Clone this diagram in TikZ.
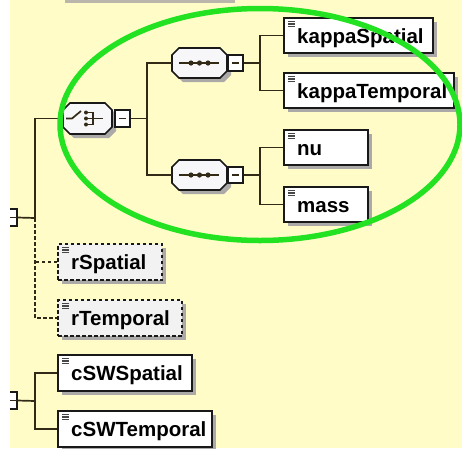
\documentclass[tikz,border=0pt]{standalone}
\usepackage{fontspec}
\setmainfont{Liberation Sans}
\usetikzlibrary{fit,calc}
\definecolor{bgc}{RGB}{255,252,200}
\definecolor{linec}{RGB}{50,42,22}
\definecolor{shadowc}{RGB}{172,170,168}
\definecolor{borderc}{RGB}{25,25,25}
\definecolor{optfill}{RGB}{242,242,242}
\definecolor{ctrlfill}{RGB}{247,247,250}
\definecolor{greenc}{RGB}{34,226,34}
\definecolor{topbar}{RGB}{186,182,172}
\tikzset{
  conn/.style={draw=linec, line width=1.7pt},
  optconn/.style={conn, dash pattern=on 3.5pt off 2.5pt},
  elem/.style={draw=borderc, fill=white, line width=1.7pt, inner sep=0pt},
  optelem/.style={elem, fill=optfill, dash pattern=on 3.5pt off 2.5pt},
  lbl/.style={font=\bfseries\fontsize{20.5}{22}\selectfont, text=black, inner sep=0pt, anchor=base west},
  minusbox/.style={draw=borderc, fill=white, line width=1.4pt, inner sep=0pt},
  ctrl/.style={draw=borderc, fill=ctrlfill, line width=1.7pt},
  icon/.style={draw=linec, line width=1.7pt},
}
% element box: name, x1, y1, x2, y2, text, style
\newcommand\elembox[7]{%
  \fill[shadowc] (#2+4,#3+4) rectangle (#4+4,#5+4);
  \node[#7, fit={(#2,#3) (#4,#5)}] (#1) {};
  \draw[borderc!80, line width=1.2pt] (#2+4,#3+3.5) -- (#2+11,#3+3.5) (#2+4,#3+6) -- (#2+11,#3+6) (#2+4,#3+8.5) -- (#2+11,#3+8.5);
  \node[lbl] at (#2+13,#3+25) {#6};
}
% compositor: name, x1, y1, x2, y2
\newcommand\ctrlnode[5]{%
  \fill[shadowc] (#2+11,#3+4) -- (#4-3,#3+4) -- (#4+4,#3+11) -- (#4+4,#5-3) -- (#4-3,#5+4) -- (#2+11,#5+4) -- (#2+4,#5-3) -- (#2+4,#3+11) -- cycle;
  \filldraw[ctrl] (#2+7,#3) -- (#4-7,#3) -- (#4,#3+7) -- (#4,#5-7) -- (#4-7,#5) -- (#2+7,#5) -- (#2,#5-7) -- (#2,#3+7) -- cycle;
  \node[inner sep=0pt, fit={(#2,#3) (#4,#5)}] (#1) {};
}
% minus box: name, x1, y1, x2, y2
\newcommand\minusbox[5]{%
  \node[minusbox, fit={(#2,#3) (#4,#5)}] (#1) {};
  \draw[linec, line width=1.3pt] ($(#1.center)+(-3.5,0)$) -- ($(#1.center)+(3.5,0)$);
}
\begin{document}
\begin{tikzpicture}[x=1pt,y=-1pt]
\useasboundingbox (0,0) rectangle (462,448);
\clip (0,0) rectangle (462,448);
\fill[bgc] (0,0) rectangle (462,448);
\fill[topbar] (65,0) rectangle (235,3);

% left minus boxes
\minusbox{lm}{9}{209}{17}{226}
\minusbox{bm}{9}{392}{17}{409}
\fill[white] (0,0) rectangle (9.5,448);

% choice compositor
\ctrlnode{choice}{63}{103}{112}{134}
\draw[icon] (66,118.5) -- (72,118.5) -- (81,111);
\fill[linec] (86,112.5) circle (2) (86,118.5) circle (2) (86,124.5) circle (2);
\draw[icon] (86,112.5) -- (93,112.5) -- (93,124.5) -- (86,124.5) (86,118.5) -- (103,118.5);
\minusbox{cm}{115}{110}{130}{127}

% sequence compositors
\ctrlnode{seqA}{172}{48}{227}{78}
\draw[icon] (179,63) -- (219,63);
\fill[linec] (191,63) circle (2.6) (199.5,63) circle (2.6) (208,63) circle (2.6);
\minusbox{smA}{228}{55}{243}{71}

\ctrlnode{seqB}{172}{160}{227}{190}
\draw[icon] (179,175) -- (219,175);
\fill[linec] (191,175) circle (2.6) (199.5,175) circle (2.6) (208,175) circle (2.6);
\minusbox{smB}{228}{167}{243}{183}

% elements
\elembox{ks}{284}{18}{433}{53}{kappaSpatial}{elem}
\elembox{kt}{284}{73}{454}{108}{kappaTemporal}{elem}
\elembox{nu}{284}{130}{368}{165}{nu}{elem}
\elembox{mass}{284}{187}{368}{222}{mass}{elem}
\elembox{rs}{58}{244}{162}{280}{rSpatial}{optelem}
\elembox{rt}{58}{300}{182}{336}{rTemporal}{optelem}
\elembox{cs}{58}{355}{192}{391}{cSWSpatial}{elem}
\elembox{ct}{58}{411}{212}{447}{cSWTemporal}{elem}

% junctions
\coordinate (lj) at (35,218);
\coordinate (bj) at (35,401);
\coordinate (cj) at (147,118.5);
\coordinate (aj) at (260,63);
\coordinate (bbj) at (260,175);

% connectors
\draw[conn] (lm.east) -- (lj);
\draw[conn] (choice.west) -| (lj);
\draw[optconn] (lj) |- (rt.west);
\draw[optconn] (rs.west) -- (lj |- rs.west);
\draw[conn] (bm.east) -- (bj);
\draw[conn] (cs.west) -| (bj) |- (ct.west);
\draw[conn] (cm.east) -- (cj);
\draw[conn] (seqA.west) -| (cj) |- (seqB.west);
\draw[conn] (smA.east) -- (aj);
\draw[conn] (ks.west) -| (aj) |- (kt.west);
\draw[conn] (smB.east) -- (bbj);
\draw[conn] (nu.west) -| (bbj) |- (mass.west);

% highlight ellipse
\draw[greenc, line width=5.5pt] (260,124.5) ellipse [x radius=200, y radius=116];
\end{tikzpicture}
\end{document}
